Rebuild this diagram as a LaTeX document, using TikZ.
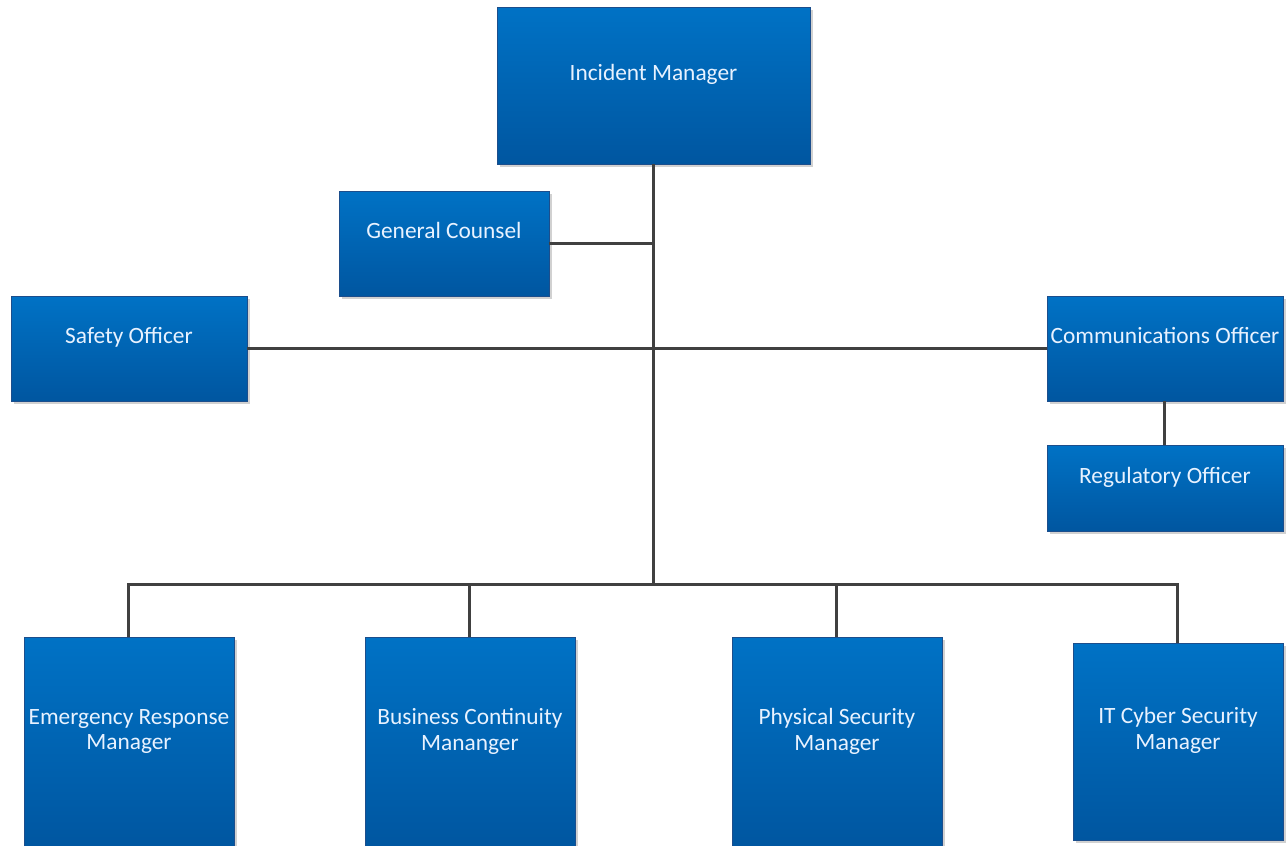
\documentclass[tikz,border=0pt]{standalone}
\usepackage{fontspec}
\setmainfont{Carlito}
\usetikzlibrary{shadows}
\definecolor{boxtop}{RGB}{0,114,197}
\definecolor{boxbot}{RGB}{0,86,160}
\definecolor{boxline}{RGB}{28,78,140}
\definecolor{wire}{RGB}{64,64,64}
\definecolor{boxtext}{RGB}{232,242,255}
\tikzset{
    box/.style={rectangle, anchor=north west, draw=boxline, line width=0.5pt,
        top color=boxtop, bottom color=boxbot, text=boxtext, align=center,
        inner sep=2pt, outer sep=0pt, text depth=0.52cm,
        font=\fontsize{13.3}{14.4}\selectfont,
        drop shadow={shadow xshift=1.5pt, shadow yshift=-1.5pt, opacity=0.18, fill=black}},
    wire/.style={draw=wire, line width=1.7pt}
}
\begin{document}
\begin{tikzpicture}[x=0.02cm, y=-0.02cm]
        \useasboundingbox (0,0) rectangle (1286,846);
        \node[box, minimum width=6.26cm, minimum height=3.14cm] (im) at (497,7) {Incident Manager};
        \node[box, minimum width=4.2cm, minimum height=2.1cm] (gc) at (339,191) {General Counsel};
        \node[box, minimum width=4.72cm, minimum height=2.1cm] (so) at (11,296) {Safety Officer};
        \node[box, minimum width=4.72cm, minimum height=2.1cm] (co) at (1047,296) {Communications Officer};
        \node[box, minimum width=4.72cm, minimum height=1.72cm] (ro) at (1047,445) {Regulatory Officer};
        \node[box, minimum width=4.2cm, minimum height=4.22cm] (erm) at (24,637) {Emergency Response\\Manager};
        \node[box, minimum width=4.2cm, minimum height=4.22cm] (bcm) at (365,637) {Business Continuity\\Mananger};
        \node[box, minimum width=4.2cm, minimum height=4.22cm] (psm) at (732,637) {Physical Security\\Manager};
        \node[box, minimum width=4.2cm, minimum height=3.94cm] (itm) at (1073,643) {IT Cyber Security\\Manager};
        \coordinate (bus) at (im.south |- 0,584);
        \draw[wire] (im.south) -- (bus);
        \draw[wire] (gc.east) -- (gc.east -| im.south);
        \draw[wire] (so.east) -- (co.west);
        \draw[wire] (co.south) -- (ro.north);
        \foreach \n in {erm,bcm,psm,itm}
            \draw[wire] (bus) -| (\n.north);
    \end{tikzpicture}
\end{document}
